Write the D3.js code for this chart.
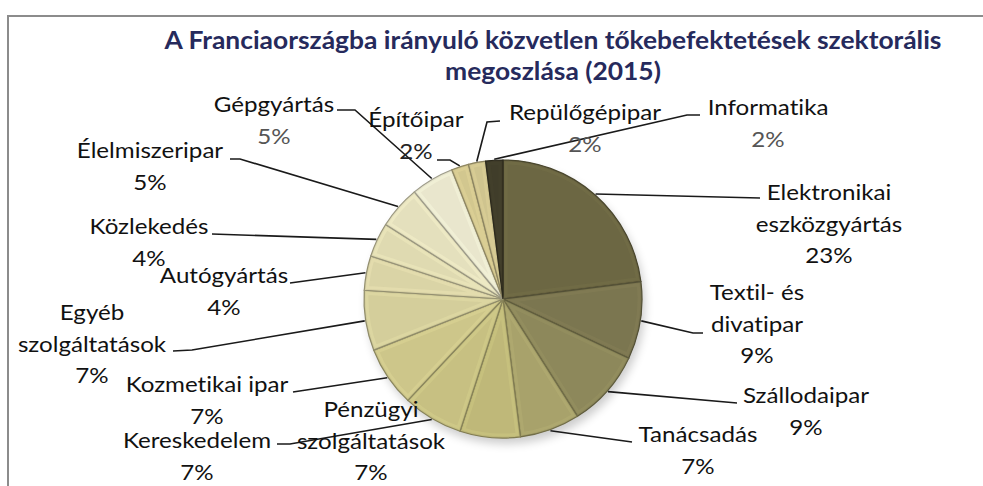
<!DOCTYPE html>
<html>
<head>
<meta charset="utf-8">
<script src="https://cdn.jsdelivr.net/npm/d3@7"></script>
<style>
  html, body { margin: 0; padding: 0; background: #fff; }
  svg { display: block; }
  text { font-variant-ligatures: none; }
</style>
</head>
<body>
<svg id="chart" width="983" height="486"></svg>
<script>
// ---------- DATA ----------
const categories = [
  "Elektronikai eszközgyártás", "Textil- és divatipar", "Szállodaipar", "Tanácsadás",
  "Pénzügyi szolgáltatások", "Kereskedelem", "Kozmetikai ipar", "Egyéb szolgáltatások",
  "Autógyártás", "Közlekedés", "Élelmiszeripar", "Gépgyártás",
  "Építőipar", "Repülőgépipar", "Informatika"
];
const values = [23, 9, 9, 7, 7, 7, 7, 7, 4, 4, 5, 5, 2, 2, 2];
const labelLines = [
  ["Elektronikai", "eszközgyártás"], ["Textil- és", "divatipar"], ["Szállodaipar"], ["Tanácsadás"],
  ["Pénzügyi", "szolgáltatások"], ["Kereskedelem"], ["Kozmetikai ipar"], ["Egyéb", "szolgáltatások"],
  ["Autógyártás"], ["Közlekedés"], ["Élelmiszeripar"], ["Gépgyártás"],
  ["Építőipar"], ["Repülőgépipar"], ["Informatika"]
];
const titleLines = ["A Franciaországba irányuló közvetlen tőkebefektetések szektorális", "megoszlása (2015)"];

// ---------- STYLE / LAYOUT ----------
const colors = [
  "#6c6743", "#7b7650", "#8d885b", "#a8a26b", "#bfb879", "#c7c082", "#cdc68a", "#d4ce9b",
  "#dad4a6", "#dfdab1", "#e4e0bd", "#e9e6cd", "#d2c78f", "#cfc48f", "#403d2a"
];
// label anchor: centre x, first baseline y
const labelPos = [
  [829, 200], [757, 300], [806, 403], [698, 442], [371, 417], [197, 448], [207, 392], [92, 320],
  [224, 283], [149, 234], [150, 158], [274, 112], [416, 127], [585, 120], [768, 115]
];
// leader polyline points after the slice edge point (null = no leader)
const leaderPts = [
  [[760, 198]], [[693, 333], [703, 333]], [[737, 403]], [[632, 442]], null,
  [[290, 444], [277, 444]], [[293, 392]], [[192, 350], [173, 351]],
  [[290, 283]], [[212, 234]], [[240, 159], [230, 159]], [[355, 110], [337, 110]],
  [[450, 160], [437, 160]], [[487, 122], [500, 121]], [[687, 115], [700, 115]]
];
const pctColor = ["#111", "#111", "#111", "#111", "#111", "#111", "#111", "#111",
                  "#111", "#111", "#111", "#555", "#222", "#555", "#555"];

const W = 983, H = 486;
const cx = 503, cy = 299, R = 139;
const lineH = 31.5;
const fontFamily = "Lato, 'Open Sans', sans-serif";
const labelSize = 21, labelSX = 1.15;

const svg = d3.select("#chart");
const defs = svg.append("defs");

// frame
svg.append("line").attr("x1", 8).attr("y1", 16).attr("x2", W).attr("y2", 16)
  .attr("stroke", "#8c8c8c").attr("stroke-width", 2);
svg.append("line").attr("x1", 8).attr("y1", 15).attr("x2", 8).attr("y2", H)
  .attr("stroke", "#8c8c8c").attr("stroke-width", 2);

// title
const title = svg.append("g").attr("font-family", fontFamily).attr("font-weight", 700)
  .attr("font-size", 24).attr("fill", "#262a5c").attr("text-anchor", "middle");
titleLines.forEach((t, i) => {
  title.append("text").attr("transform", `translate(553,${49 + i * 31}) scale(1.1,1)`).text(t);
});

// shadow
const blur = defs.append("filter").attr("id", "shadow").attr("x", "-20%").attr("y", "-20%")
  .attr("width", "140%").attr("height", "140%");
blur.append("feGaussianBlur").attr("stdDeviation", 5);
svg.append("circle").attr("cx", cx + 3).attr("cy", cy + 6).attr("r", R)
  .attr("fill", "#000").attr("opacity", 0.2).attr("filter", "url(#shadow)");

// pie
const pie = d3.pie().sort(null).value(d => d)(values);
const arc = d3.arc().innerRadius(0).outerRadius(R);
const edge = d3.arc().innerRadius(R + 1).outerRadius(R + 1);

const g = svg.append("g").attr("transform", `translate(${cx},${cy})`);
pie.forEach((d, i) => {
  const p = arc(d);
  defs.append("clipPath").attr("id", "clip" + i).append("path").attr("d", p);
  const base = d3.color(colors[i]);
  g.append("path").attr("d", p).attr("fill", colors[i]);
  // inner bevel highlight
  g.append("path").attr("d", p).attr("fill", "none")
    .attr("stroke", base.brighter(0.3)).attr("stroke-opacity", 0.35)
    .attr("stroke-width", 9).attr("clip-path", `url(#clip${i})`);
  g.append("path").attr("d", p).attr("fill", "none")
    .attr("stroke", base.darker(0.25)).attr("stroke-opacity", 0.45)
    .attr("stroke-width", 3).attr("clip-path", `url(#clip${i})`);
  // outline
  g.append("path").attr("d", p).attr("fill", "none")
    .attr("stroke", base.darker(1.1)).attr("stroke-width", 1.2);
});

// leaders
const line = d3.line();
pie.forEach((d, i) => {
  if (!leaderPts[i]) return;
  const e = edge.centroid(d);
  const pts = [[cx + e[0], cy + e[1]], ...leaderPts[i]];
  svg.append("path").attr("d", line(pts)).attr("fill", "none")
    .attr("stroke", "#1a1a1a").attr("stroke-width", 1.6);
});

// labels
const lab = svg.append("g").attr("font-family", fontFamily).attr("font-size", labelSize)
  .attr("text-anchor", "middle");
pie.forEach((d, i) => {
  const [x, y] = labelPos[i];
  const lines = labelLines[i].concat([values[i] + "%"]);
  lines.forEach((t, j) => {
    lab.append("text")
      .attr("transform", `translate(${x},${y + j * lineH}) scale(${labelSX},1)`)
      .attr("fill", j === lines.length - 1 ? pctColor[i] : "#111")
      .text(t);
  });
});
</script>
</body>
</html>
